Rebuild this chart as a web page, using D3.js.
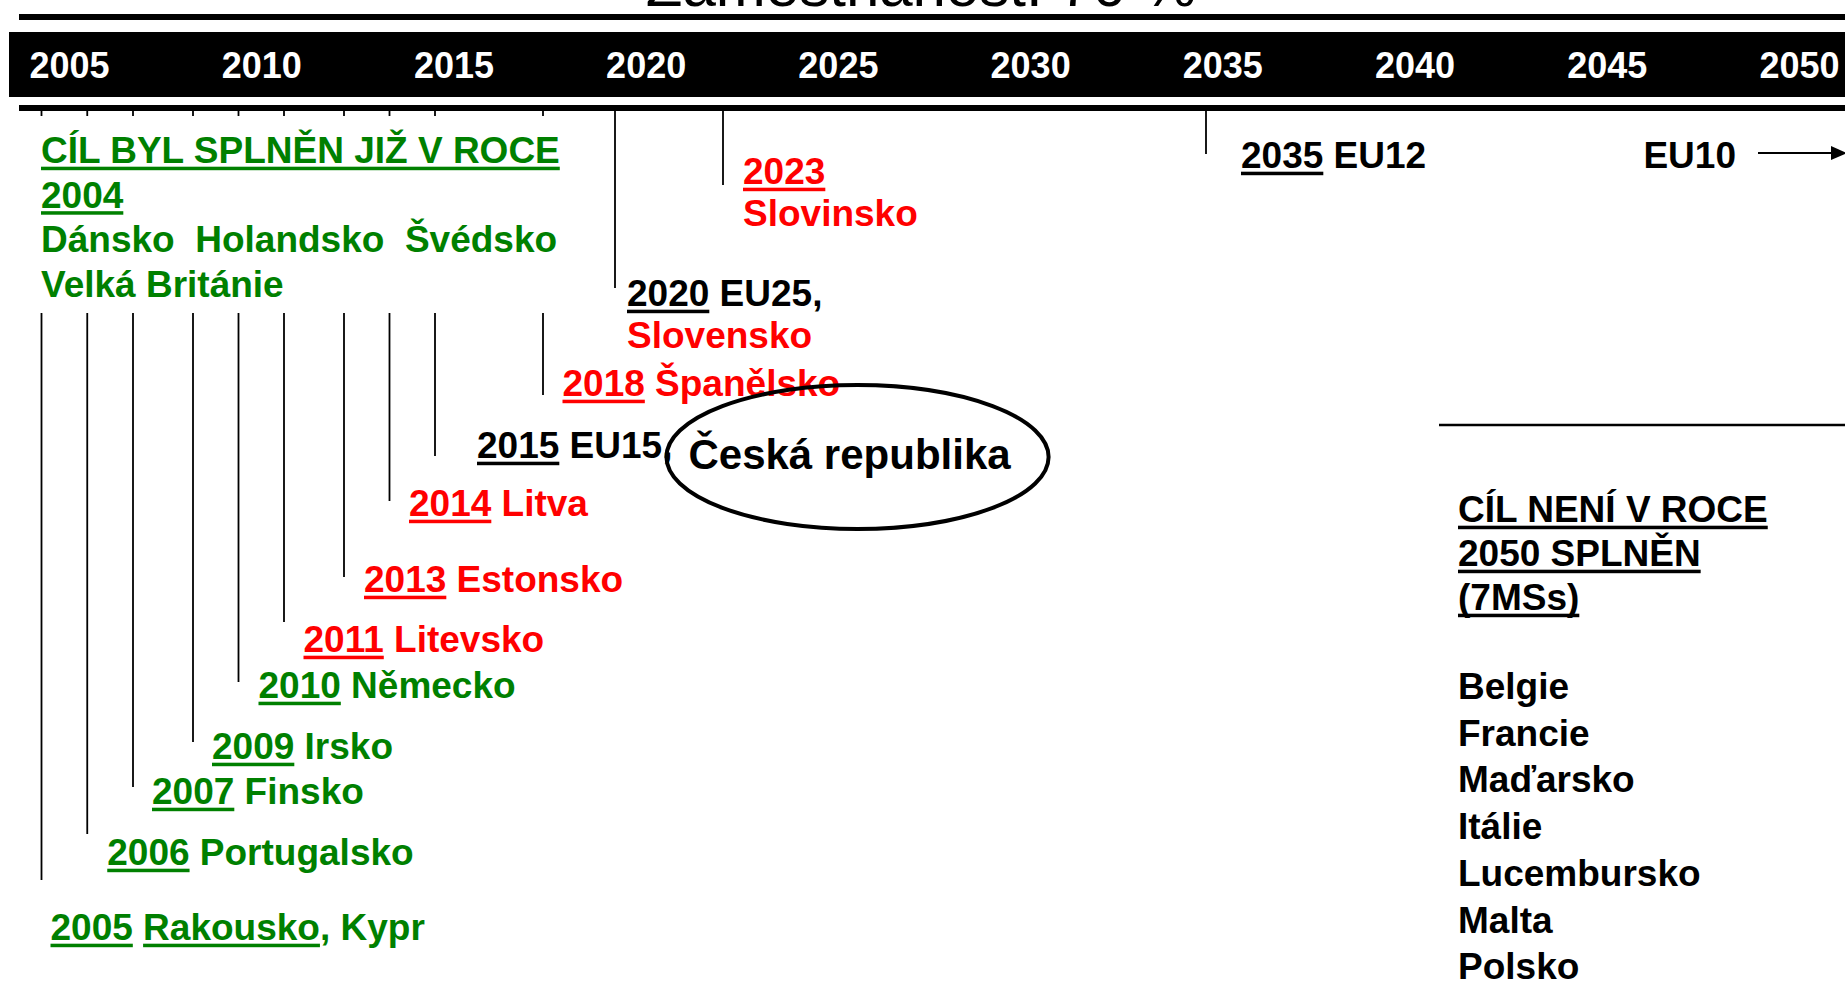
<!DOCTYPE html>
<html>
<head>
<meta charset="utf-8">
<script src="https://d3js.org/d3.v7.min.js"></script>
<style>
    body { margin: 0; background: #fff; overflow: hidden; }
    text { font-family: "Liberation Sans", Arial, sans-serif; font-weight: bold; white-space: pre; }
</style>
</head>
<body>
<script>
// ---- data ----
var title = "Zaměstnanost: 70 %";
var axisYears = [2005, 2010, 2015, 2020, 2025, 2030, 2035, 2040, 2045, 2050];

var eventYears = [2005, 2006, 2007, 2009, 2010, 2011, 2013, 2014, 2015, 2018, 2020, 2023, 2035];
var eventNames = ["Rakousko, Kypr", "Portugalsko", "Finsko", "Irsko", "Německo", "Litevsko",
                  "Estonsko", "Litva", "EU15,", "Španělsko", "EU25,", "", "EU12"];
var eventNotes = ["", "", "", "", "", "", "", "", "", "", "Slovensko", "Slovinsko", ""];
var eventGroups = ["old", "old", "old", "old", "old", "new", "new", "new", "eu", "new", "eu", "new", "eu"];
var underlinedNames = ["Rakousko"];

var highlightYear = 2015;
var highlightCountry = "Česká republika";

var metTitle = "CÍL BYL SPLNĚN JIŽ V ROCE";
var metYear = 2004;
var metCountries = ["Dánsko", "Holandsko", "Švédsko", "Velká Británie"];

var laterLabel = "EU10";

var notMetTitle = ["CÍL NENÍ V ROCE", "2050 SPLNĚN"];
var notMetCountries = ["Belgie", "Francie", "Maďarsko", "Itálie", "Lucembursko", "Malta", "Polsko"];

// ---- layout ----
var W = 1845, H = 982;
var FS = 37;
var colors = { old: "#008000", new: "#ff0000", eu: "#000000" };

// the slide staggers the drop lines by hand: where each one stops and where its label sits
var eventLayout = [
    { end: 880, base: 940, dx: 9 },
    { end: 834, base: 865, dx: 20 },
    { end: 787, base: 804, dx: 19 },
    { end: 742, base: 759, dx: 19 },
    { end: 682, base: 698, dx: 20 },
    { end: 622, base: 652, dx: 19.5 },
    { end: 577, base: 592, dx: 20 },
    { end: 501, base: 516, dx: 19.5 },
    { end: 456, base: 458, dx: 42 },
    { end: 395, base: 396, dx: 19.5 },
    { end: 288, base: 306, dx: 12 },
    { end: 185, base: 184, dx: 20 },
    { end: 154, base: 168, dx: 35 }
];

var svg = d3.select("body").append("svg")
    .attr("width", W)
    .attr("height", H);

// year band scale
var yearX = d3.scaleLinear().domain([2005, 2050]).range([69, 1799]);
// the drop lines use the slide's own (uneven) time spacing
var markerX = d3.scaleLinear()
    .domain([2005, 2007, 2009, 2011, 2013, 2015, 2023, 2035])
    .range([41.5, 133, 193, 284, 344, 435, 723, 1206]);

// title (mostly cut off at the top of the slide)
svg.append("text")
    .attr("x", 921)
    .attr("y", 6)
    .attr("text-anchor", "middle")
    .style("font-weight", "normal")
    .style("font-size", "60px")
    .text(title);

// rules and black year band
svg.append("rect").attr("x", 19).attr("y", 14).attr("width", W - 19).attr("height", 6).attr("fill", "#000");
svg.append("rect").attr("x", 9).attr("y", 32).attr("width", W - 9).attr("height", 65).attr("fill", "#000");
svg.append("rect").attr("x", 19).attr("y", 105).attr("width", W - 19).attr("height", 6).attr("fill", "#000");

var axis = d3.axisBottom(yearX)
    .tickValues(axisYears)
    .tickFormat(d3.format("d"))
    .tickSize(0);

var gAxis = svg.append("g")
    .attr("transform", "translate(0,78)")
    .call(axis);
gAxis.select(".domain").remove();
gAxis.selectAll("text")
    .attr("y", 0)
    .attr("dy", null)
    .attr("fill", "#fff")
    .style("font-family", '"Liberation Sans", Arial, sans-serif')
    .style("font-weight", "bold")
    .style("font-size", "36px");

// helper: one line of text made of parts, some underlined
function writeLine(parent, x, y, parts, color, size) {
    size = size || FS;
    var t = parent.append("text")
        .attr("x", x)
        .attr("y", y)
        .attr("fill", color)
        .style("font-size", size + "px");
    parts.forEach(function(p) {
        t.append("tspan").text(p.text);
    });
    var node = t.node();
    var pos = 0;
    parts.forEach(function(p) {
        if (p.under && p.text.length) {
            var x0 = x + (pos ? node.getSubStringLength(0, pos) : 0);
            var w = node.getSubStringLength(pos, p.text.length);
            parent.append("rect")
                .attr("x", x0)
                .attr("y", y + size * 0.1)
                .attr("width", w)
                .attr("height", size * 0.095)
                .attr("fill", color);
        }
        pos += p.text.length;
    });
    return t;
}

function nameParts(name) {
    var parts = [];
    var rest = name;
    underlinedNames.forEach(function(u) {
        var i = rest.indexOf(u);
        if (i >= 0) {
            if (i > 0) parts.push({ text: rest.slice(0, i) });
            parts.push({ text: u, under: true });
            rest = rest.slice(i + u.length);
        }
    });
    if (rest) parts.push({ text: rest });
    return parts;
}

// drop lines
var gLines = svg.append("g");
gLines.selectAll("line")
    .data(eventYears)
    .enter()
    .append("line")
    .attr("x1", function(d) { return markerX(d); })
    .attr("x2", function(d) { return markerX(d); })
    .attr("y1", 111)
    .attr("y2", function(d, i) { return eventLayout[i].end; })
    .attr("stroke", "#000")
    .attr("stroke-width", 1.8);

// green block: target already met in 2004 (white box breaks the lines)
var gMet = svg.append("g");
gMet.append("rect")
    .attr("x", 30).attr("y", 116)
    .attr("width", 545).attr("height", 197)
    .attr("fill", "#fff");
var metLH = 44.5, metTop = 163;
writeLine(gMet, 41, metTop, [{ text: metTitle, under: true }], colors.old);
writeLine(gMet, 41, metTop + metLH, [{ text: String(metYear), under: true }], colors.old);
writeLine(gMet, 41, metTop + 2 * metLH, [{ text: metCountries.slice(0, 3).join("  ") }], colors.old);
writeLine(gMet, 41, metTop + 3 * metLH, [{ text: metCountries.slice(3).join("  ") }], colors.old);

// event labels
var gLabels = svg.append("g");
var highlightEnd = null, highlightBase = null;
eventYears.forEach(function(yr, i) {
    var lay = eventLayout[i];
    var x = markerX(yr) + lay.dx;
    var parts = [{ text: String(yr), under: true }];
    if (eventNames[i]) {
        parts.push({ text: " " });
        parts = parts.concat(nameParts(eventNames[i]));
    }
    var t = writeLine(gLabels, x, lay.base, parts, colors[eventGroups[i]]);
    if (eventNotes[i]) {
        writeLine(gLabels, x, lay.base + 42, [{ text: eventNotes[i] }], colors.new);
    }
    if (yr === highlightYear) {
        highlightEnd = x + t.node().getComputedTextLength();
        highlightBase = lay.base;
    }
});

// Czech Republic, circled
var hx = highlightEnd + 16, hy = highlightBase + 11;
var ht = svg.append("text")
    .attr("x", hx)
    .attr("y", hy)
    .style("font-size", "42px")
    .text(highlightCountry);
var hw = ht.node().getComputedTextLength();
svg.append("ellipse")
    .attr("cx", hx + hw / 2 + 8)
    .attr("cy", hy - 12)
    .attr("rx", hw / 2 + 30)
    .attr("ry", 72)
    .attr("fill", "none")
    .attr("stroke", "#000")
    .attr("stroke-width", 4);

// EU10 beyond 2050
var arrowX0 = yearX(2050) - 41;
svg.append("text")
    .attr("x", arrowX0 - 22)
    .attr("y", 168)
    .attr("text-anchor", "end")
    .style("font-size", FS + "px")
    .text(laterLabel);
svg.append("line")
    .attr("x1", arrowX0).attr("x2", W - 12)
    .attr("y1", 153).attr("y2", 153)
    .attr("stroke", "#000")
    .attr("stroke-width", 1.8);
svg.append("path")
    .attr("d", "M" + (W - 14) + ",146L" + (W + 2) + ",153L" + (W - 14) + ",160Z")
    .attr("fill", "#000");

// right block: target not met by 2050
var gNot = svg.append("g");
gNot.append("line")
    .attr("x1", 1439).attr("x2", W)
    .attr("y1", 425).attr("y2", 425)
    .attr("stroke", "#000")
    .attr("stroke-width", 2.5);
var notTitleLines = notMetTitle.concat(["(" + notMetCountries.length + "MSs)"]);
notTitleLines.forEach(function(s, i) {
    writeLine(gNot, 1458, 522 + i * 44, [{ text: s, under: true }], "#000");
});
notMetCountries.forEach(function(s, i) {
    writeLine(gNot, 1458, 699 + i * 46.7, [{ text: s }], "#000");
});
</script>
</body>
</html>
